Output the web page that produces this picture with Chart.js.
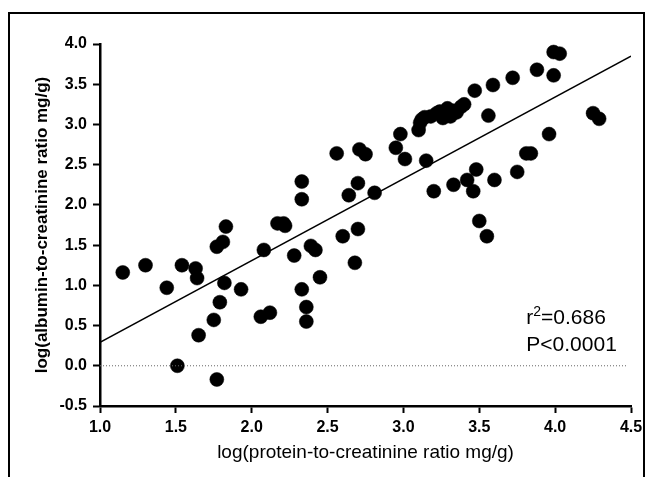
<!DOCTYPE html>
<html>
<head>
<meta charset="utf-8">
<script src="https://cdn.jsdelivr.net/npm/chart.js@4.4.0/dist/chart.umd.min.js"></script>
<style>
  html, body { margin: 0; padding: 0; background: #fff; }
  #wrap { position: relative; width: 651px; height: 477px; overflow: hidden; }
  #frame { position: absolute; left: 8px; top: 12px; width: 633px; height: 480px; border: 2px solid #000; border-bottom: none; }
  canvas { position: absolute; left: 0; top: 0; }
</style>
</head>
<body>
<div id="wrap">
  <div id="frame"></div>
  <canvas id="chart" width="651" height="477"></canvas>
</div>
<script>
// log(protein-to-creatinine) vs log(albumin-to-creatinine)
const proteinLog = [
  1.15, 1.30, 1.44, 1.51, 1.54, 1.63, 1.64, 1.65, 1.75, 1.77,
  1.77, 1.79, 1.81, 1.82, 1.83, 1.93, 2.06, 2.08, 2.12, 2.17,
  2.21, 2.22, 2.28, 2.33, 2.33, 2.33, 2.36, 2.36, 2.39, 2.42,
  2.45, 2.56, 2.60, 2.64, 2.68, 2.70, 2.70, 2.71, 2.75, 2.81,
  2.95, 2.98, 3.01, 3.10, 3.11, 3.14, 3.15, 3.18, 3.20, 3.22,
  3.26, 3.29, 3.31, 3.33, 3.35, 3.40, 3.42, 3.46, 3.47, 3.48,
  3.50, 3.55, 3.56, 3.59, 3.60, 3.72, 3.75, 3.81, 3.84, 3.88,
  3.96, 3.99, 3.99, 4.03, 4.25, 4.29, 3.12, 3.24, 3.33, 3.38
];
const albuminLog = [
  1.16, 1.25, 0.97, 0.00, 1.25, 1.21, 1.09, 0.38, 0.57, -0.17,
  1.48, 0.79, 1.54, 1.03, 1.73, 0.95, 0.61, 1.44, 0.66, 1.77,
  1.77, 1.74, 1.37, 2.29, 2.07, 0.95, 0.73, 0.55, 1.49, 1.44,
  1.10, 2.64, 1.61, 2.12, 1.28, 2.27, 1.70, 2.69, 2.63, 2.15,
  2.71, 2.88, 2.57, 2.93, 3.02, 3.09, 2.55, 3.10, 2.17, 3.14,
  3.08, 3.20, 3.10, 2.25, 3.15, 3.25, 2.31, 2.17, 3.42, 2.44,
  1.80, 1.61, 3.11, 3.49, 2.31, 3.58, 2.41, 2.64, 2.64, 3.68,
  2.88, 3.61, 3.90, 3.88, 3.14, 3.07, 3.06, 3.16, 3.17, 3.22
];

// regression line and dotted zero reference
const fitX = [1.0, 4.5];
const fitY = [0.29, 3.85];
const zeroX = [1.0, 4.48];
const zeroY = [0, 0];

const statR2 = '0.686';
const statP = 'P<0.0001';

const xTitle = 'log(protein-to-creatinine ratio mg/g)';
const yTitle = 'log(albumin-to-creatinine ratio mg/g)';

const textFont = "'Liberation Sans', Arial, sans-serif";

const pairs = (xs, ys) => xs.map((x, i) => ({ x: x, y: ys[i] }));

// r²=… / P<… label in the lower right
const statsLabel = {
  id: 'statsLabel',
  afterDatasetsDraw(chart) {
    const { ctx, scales } = chart;
    const x0 = scales.x.getPixelForValue(3.81);
    const y1 = scales.y.getPixelForValue(0.59);
    const y2 = scales.y.getPixelForValue(0.25);
    ctx.save();
    ctx.fillStyle = '#000';
    ctx.textBaseline = 'middle';
    ctx.textAlign = 'left';
    ctx.font = '21px ' + textFont;
    ctx.fillText('r', x0, y1);
    let w = ctx.measureText('r').width;
    ctx.font = '14px ' + textFont;
    ctx.fillText('2', x0 + w, y1 - 6);
    w += ctx.measureText('2').width;
    ctx.font = '21px ' + textFont;
    ctx.fillText('=' + statR2, x0 + w, y1);
    ctx.fillText(statP, x0, y2);
    ctx.restore();
  }
};

const tickOpts = {
  stepSize: 0.5,
  color: '#000',
  font: { family: textFont, size: 16, weight: 'bold' },
  callback: v => v.toFixed(1)
};
const gridOpts = { drawOnChartArea: false, drawTicks: true, tickLength: 7, tickWidth: 2, tickColor: '#000' };

new Chart(document.getElementById('chart'), {
  type: 'scatter',
  data: {
    datasets: [
      {
        type: 'line',
        data: pairs(zeroX, zeroY),
        borderColor: '#666',
        borderWidth: 1,
        borderDash: [1, 2],
        pointRadius: 0
      },
      {
        type: 'line',
        data: pairs(fitX, fitY),
        borderColor: '#000',
        borderWidth: 1.5,
        pointRadius: 0
      },
      {
        data: pairs(proteinLog, albuminLog),
        backgroundColor: '#000',
        borderColor: '#000',
        borderWidth: 0.5,
        pointRadius: 7
      }
    ]
  },
  options: {
    responsive: false,
    animation: false,
    layout: { padding: { top: 44, right: 20, bottom: 0, left: 0 } },
    plugins: { legend: { display: false }, tooltip: { enabled: false } },
    scales: {
      x: {
        type: 'linear',
        min: 1.0,
        max: 4.5,
        afterFit(scale) { scale.height = 71; },
        ticks: Object.assign({ padding: 5 }, tickOpts),
        grid: gridOpts,
        border: { color: '#000', width: 2.5 },
        title: {
          display: true,
          text: xTitle,
          color: '#000',
          padding: { top: 0, bottom: 13 },
          font: { family: textFont, size: 19 }
        }
      },
      y: {
        type: 'linear',
        min: -0.5,
        max: 4.0,
        afterFit(scale) { scale.width = 100; },
        ticks: Object.assign({ padding: 6 }, tickOpts),
        grid: gridOpts,
        border: { color: '#000', width: 2.5 },
        title: {
          display: true,
          text: yTitle,
          color: '#000',
          padding: { top: 32, bottom: 0 },
          font: { family: textFont, size: 17, weight: 'bold' }
        }
      }
    }
  },
  plugins: [statsLabel]
});
</script>
</body>
</html>
